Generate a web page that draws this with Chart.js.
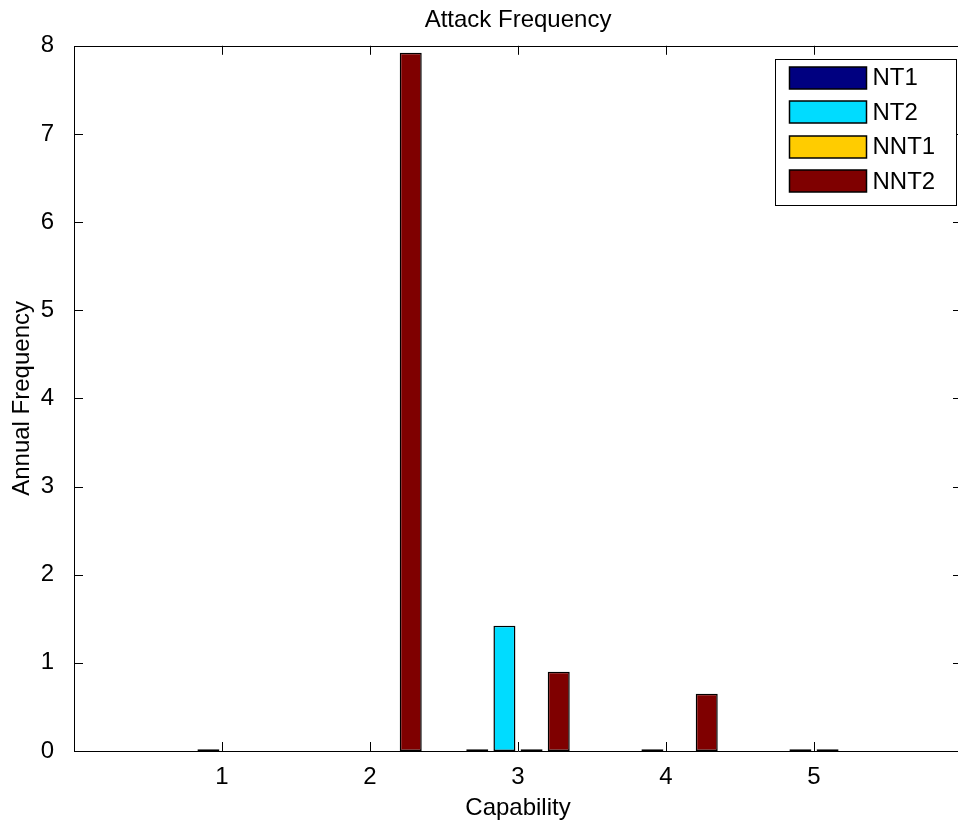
<!DOCTYPE html>
<html>
<head>
<meta charset="utf-8">
<title>Attack Frequency</title>
<script src="https://cdn.jsdelivr.net/npm/chart.js@4.4.1/dist/chart.umd.min.js"></script>
<style>
  html, body { margin: 0; padding: 0; background: #fff; overflow: hidden; }
  canvas { display: block; }
</style>
</head>
<body>
<canvas id="attackChart" width="966" height="824"></canvas>
<script>
// capability levels and annual attack frequency per threat type
const capability = [1, 2, 3, 4, 5];
const nt1  = [0,    0,    0.02, 0,    0   ];
const nt2  = [0.02, 0,    1.42, 0.02, 0.02];
const nnt1 = [0,    0,    0.02, 0,    0.02];
const nnt2 = [0,    7.92, 0.9,  0.65, 0   ];

const seriesNames  = ['NT1', 'NT2', 'NNT1', 'NNT2'];
const seriesValues = [nt1, nt2, nnt1, nnt2];
const seriesColors = ['#000080', '#00dcff', '#ffcc00', '#7f0000'];

const xTicks = [1, 2, 3, 4, 5];
const yTicks = [0, 1, 2, 3, 4, 5, 6, 7, 8];

const FONT = "'Liberation Sans', Arial, sans-serif";
Chart.defaults.font.family = FONT;
Chart.defaults.font.size = 24;
Chart.defaults.color = '#000';

// matlab style box: frame on all sides, ticks pointing inward, legend inset top right
const boxAxes = {
  id: 'boxAxes',
  afterDraw(chart) {
    const { ctx, chartArea: a, scales: { x, y } } = chart;
    const tick = 9;
    ctx.save();
    ctx.strokeStyle = '#000';
    ctx.lineWidth = 1;
    ctx.beginPath();
    ctx.rect(Math.round(a.left) + 0.5, Math.round(a.top) + 0.5,
             Math.round(a.right - a.left), Math.round(a.bottom - a.top));
    xTicks.forEach(v => {
      const px = Math.round(x.getPixelForValue(v)) + 0.5;
      ctx.moveTo(px, a.bottom); ctx.lineTo(px, a.bottom - tick);
      ctx.moveTo(px, a.top);    ctx.lineTo(px, a.top + tick);
    });
    yTicks.forEach(v => {
      const py = Math.round(y.getPixelForValue(v)) + 0.5;
      ctx.moveTo(a.left, py);  ctx.lineTo(a.left + tick, py);
      ctx.moveTo(a.right, py); ctx.lineTo(a.right - tick, py);
    });
    ctx.stroke();

    // legend
    const w = 181, h = 146;
    const lx = Math.round(a.right - 6 - w) + 0.5;
    const ly = Math.round(a.top + 13) + 0.5;
    ctx.fillStyle = '#fff';
    ctx.fillRect(lx, ly, w, h);
    ctx.strokeRect(lx, ly, w, h);
    ctx.font = '24px ' + FONT;
    ctx.textBaseline = 'middle';
    ctx.textAlign = 'left';
    chart.data.datasets.forEach((ds, i) => {
      const cy = ly + 18 + i * 34.5;
      ctx.fillStyle = ds.backgroundColor;
      ctx.fillRect(lx + 14, Math.round(cy - 11), 77, 22);
      ctx.lineWidth = 1.5;
      ctx.strokeRect(lx + 14, Math.round(cy - 11), 77, 22);
      ctx.fillStyle = '#000';
      ctx.fillText(ds.label, lx + 97, cy + 1);
    });
    ctx.restore();
  }
};

new Chart(document.getElementById('attackChart'), {
  type: 'bar',
  data: {
    datasets: seriesNames.map((name, i) => ({
      label: name,
      data: capability.map((c, j) => ({ x: c, y: seriesValues[i][j] })),
      backgroundColor: seriesColors[i],
      borderColor: '#000',
      borderWidth: 1.5,
      borderSkipped: false,
      categoryPercentage: 0.734,
      barPercentage: 0.81
    }))
  },
  options: {
    responsive: false,
    animation: false,
    layout: { padding: { left: 0, right: 1, top: 0, bottom: 0 } },
    plugins: {
      legend: { display: false },
      tooltip: { enabled: false },
      title: {
        display: true,
        text: 'Attack Frequency',
        fullSize: false,
        font: { size: 24, weight: 'normal' },
        padding: { top: 6, bottom: 11 }
      }
    },
    scales: {
      x: {
        type: 'linear',
        min: 0,
        max: 6,
        offset: false,
        grid: { display: false, offset: false },
        border: { display: false },
        ticks: {
          stepSize: 1,
          padding: 4,
          maxRotation: 0,
          callback: v => xTicks.includes(v) ? String(v) : ''
        },
        title: {
          display: true,
          text: 'Capability',
          font: { size: 24 },
          padding: { top: 0, bottom: 1 }
        },
        afterFit: s => { s.height = 73; }
      },
      y: {
        min: 0,
        max: 8,
        grid: { display: false },
        border: { display: false },
        ticks: { stepSize: 1, padding: 12 },
        title: {
          display: true,
          text: 'Annual Frequency',
          font: { size: 24 },
          padding: { top: 8, bottom: 0 }
        },
        afterFit: s => { s.width = 74; }
      }
    }
  },
  plugins: [boxAxes]
});
</script>
</body>
</html>
